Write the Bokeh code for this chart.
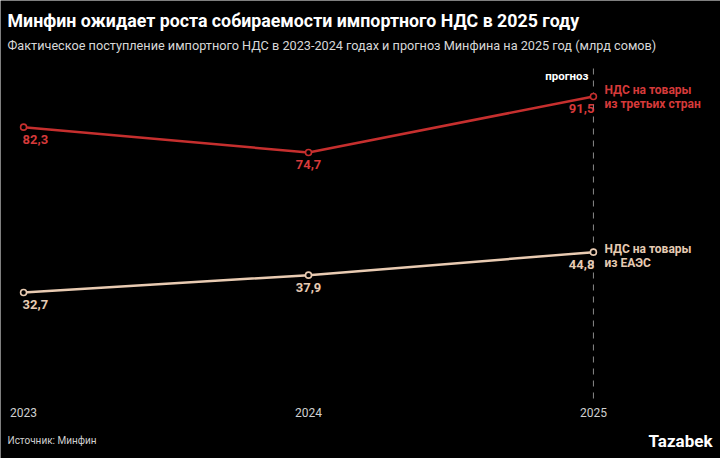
from bokeh.plotting import figure
from bokeh.models import Range1d, Label, ColumnDataSource
from bokeh.core.properties import value
from bokeh.embed import file_html
from bokeh.resources import INLINE

years = [2023, 2024, 2025]
year_labels = ["2023", "2024", "2025"]
third_countries = [82.3, 74.7, 91.5]
eaeu = [32.7, 37.9, 44.8]

title_text = "Минфин ожидает роста собираемости импортного НДС в 2025 году"
subtitle_text = "Фактическое поступление импортного НДС в 2023-2024 годах и прогноз Минфина на 2025 год (млрд сомов)"
source_text = "Источник: Минфин"
series1_name = ["НДС на товары", "из третьих стран"]
series2_name = ["НДС на товары", "из ЕАЭС"]
forecast_text = "прогноз"

RED = "#c62f2e"
RED_TXT = "#d63a3a"
BEIGE = "#e9cbb2"
BEIGE_TXT = "#e6cbb3"
FONT = "Roboto"

W, H = 720, 458

p = figure(width=W, height=H, output_backend="svg", toolbar_location=None,
           x_axis_type=None, y_axis_type=None, min_border=0,
           x_range=Range1d(2022.919, 2025.446), y_range=Range1d(-17.1, 120.3),
           background_fill_color="black", border_fill_color="black",
           outline_line_color=None)
p.grid.visible = False

def fmt(v):
    return f"{v:.1f}".replace(".", ",")

# forecast divider (dashed), from the baseline up to above the lines
p.segment(x0=[years[-1]], y0=[0.9], x1=[years[-1]], y1=[100.0],
          line_color="#8a8a8a", line_dash="6 6", line_width=1)

for vals, col, txtcol in [(third_countries, RED, RED_TXT), (eaeu, BEIGE, BEIGE_TXT)]:
    src = ColumnDataSource(dict(x=years, y=vals, lab=[fmt(v) for v in vals],
                                align=["left", "center", "right"], xo=[-1, 0, 1]))
    p.line("x", "y", source=src, line_color=col, line_width=2.5)
    p.scatter("x", "y", source=src, size=6, fill_color="black", line_color=col, line_width=1.6)
    p.text("x", "y", text="lab", source=src, text_align="align", text_baseline="middle",
           x_offset="xo", y_offset=12, text_color=txtcol,
           text_font=value(FONT), text_font_style="bold", text_font_size="13px")

# year tick labels
ysrc = ColumnDataSource(dict(x=years, lab=year_labels, y=[-17.1 + (458 - 412) / 3.333] * 3))
p.text("x", "y", text="lab", source=ysrc, text_align="center", text_baseline="middle",
       text_color="#d0d0d0", text_font=value(FONT), text_font_size="12px")

def lab(text, x, ypx, size, color, bold=False, align="left"):
    p.add_layout(Label(x=x, y=H - ypx, x_units="screen", y_units="screen", text=text,
                       text_color=color, text_font=FONT, text_font_size=size,
                       text_font_style="bold" if bold else "normal",
                       text_align=align, text_baseline="middle"))

lab(title_text, 7, 20, "17.8px", "white", bold=True)
lab(subtitle_text, 7, 45, "12.7px", "#d8d8d8")
lab(forecast_text, 588, 75, "11.5px", "white", bold=True, align="right")
lab(series1_name[0], 604, 89, "12px", RED_TXT, bold=True)
lab(series1_name[1], 604, 103, "12px", RED_TXT, bold=True)
lab(series2_name[0], 604, 248, "12px", BEIGE_TXT, bold=True)
lab(series2_name[1], 604, 262, "12px", BEIGE_TXT, bold=True)
lab(source_text, 7, 440, "10px", "#d0d0d0")
lab("Tazabek", 712, 440, "17px", "white", bold=True, align="right")

open("out.html", "w").write(file_html(p, INLINE))
